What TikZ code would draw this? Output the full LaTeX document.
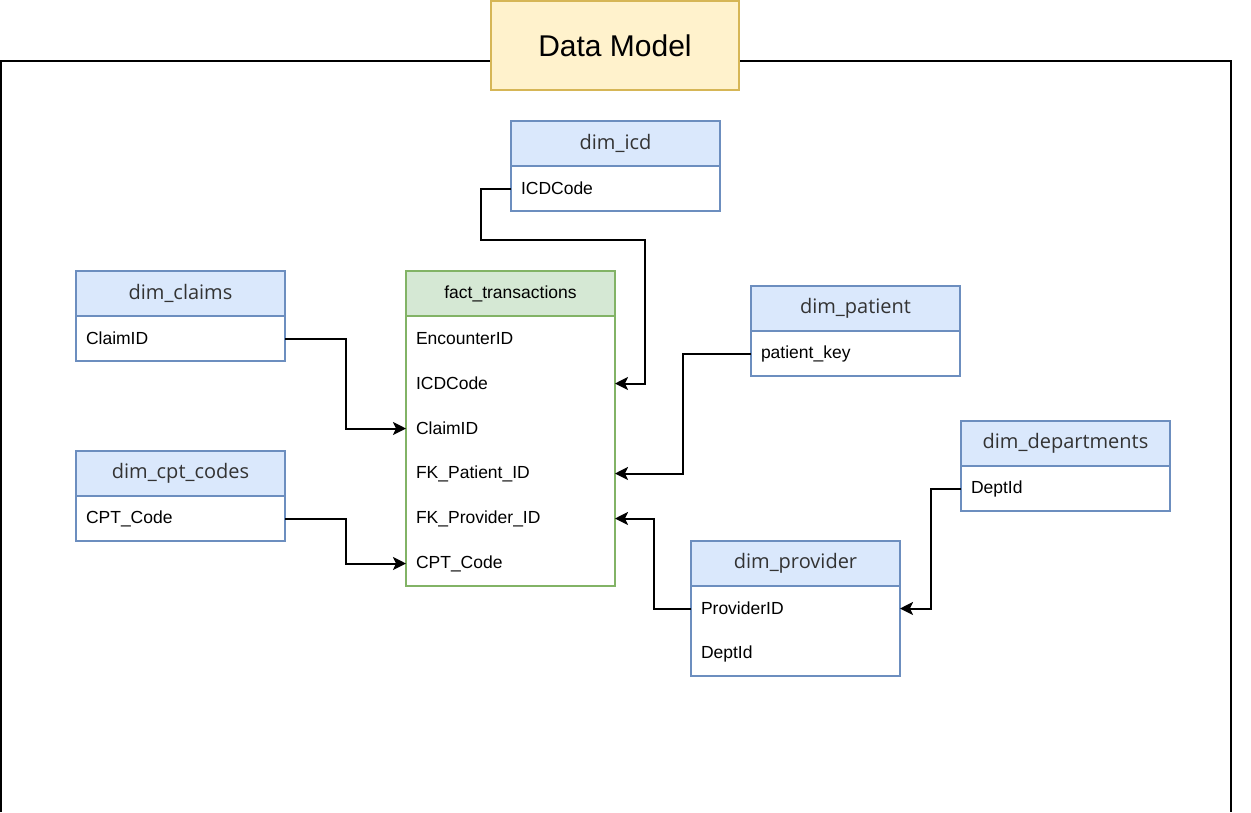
\documentclass[tikz,border=0pt]{standalone}
\usepackage{fontspec}
\setmainfont{Liberation Sans}
\newfontfamily\headfont{Open Sans}
\usetikzlibrary{arrows.meta,positioning}
\definecolor{dimblue}{RGB}{108,142,191}
\definecolor{dimshade}{RGB}{218,232,252}
\definecolor{factgreen}{RGB}{130,179,102}
\definecolor{factshade}{RGB}{213,232,212}
\definecolor{titleline}{RGB}{214,182,86}
\definecolor{titleshade}{RGB}{255,242,204}
\begin{document}
\begin{tikzpicture}[x=1pt,y=-1pt,font=\fontsize{17.5}{20}\selectfont,
    line width=1.5pt,
    dimhead/.style={draw=dimblue,fill=dimshade,minimum width=209pt,
      minimum height=45pt,inner sep=0pt,outer sep=0pt,text=black!80,
      font=\headfont\fontsize{20}{24}\selectfont},
    facthead/.style={draw=factgreen,fill=factshade,minimum width=209pt,
      minimum height=45pt,inner sep=0pt,outer sep=0pt},
    field/.style={minimum height=45pt,text width=189pt,inner xsep=10pt,
      inner ysep=0pt,outer sep=0pt,align=left},
    link/.style={line width=2pt,-{Stealth[length=13pt,width=13pt,inset=3pt]}}]
    \useasboundingbox (0,0) rectangle (1251,812);
    \draw[line width=2pt] (1,812) -- (1,61) -- (1231,61) -- (1231,812);
    \node[draw=titleline,fill=titleshade,minimum width=248pt,minimum height=89pt,
      font=\fontsize{30}{36}\selectfont] (title) at (615,45.5) {Data Model};

    % fact table
    \node[facthead] (facthd) at (510.5,293.5) {fact\_transactions};
    \node[field,below=0pt of facthd] (fenc) {EncounterID};
    \node[field,below=0pt of fenc] (ficd) {ICDCode};
    \node[field,below=0pt of ficd] (fclaim) {ClaimID};
    \node[field,below=0pt of fclaim] (fpatient) {FK\_Patient\_ID};
    \node[field,below=0pt of fpatient] (fprovider) {FK\_Provider\_ID};
    \node[field,below=0pt of fprovider] (fcpt) {CPT\_Code};
    \draw[factgreen] (facthd.south west) rectangle (fcpt.south east);

    % dimensions
    \node[dimhead] (icdhd) at (615.5,143.5) {dim\_icd};
    \node[field,below=0pt of icdhd] (icdcode) {ICDCode};
    \draw[dimblue] (icdhd.south west) rectangle (icdcode.south east);

    \node[dimhead] (claimhd) at (180.5,293.5) {dim\_claims};
    \node[field,below=0pt of claimhd] (claimid) {ClaimID};
    \draw[dimblue] (claimhd.south west) rectangle (claimid.south east);

    \node[dimhead] (cpthd) at (180.5,473.5) {dim\_cpt\_codes};
    \node[field,below=0pt of cpthd] (cptcode) {CPT\_Code};
    \draw[dimblue] (cpthd.south west) rectangle (cptcode.south east);

    \node[dimhead] (pathd) at (855.5,308.5) {dim\_patient};
    \node[field,below=0pt of pathd] (patkey) {patient\_key};
    \draw[dimblue] (pathd.south west) rectangle (patkey.south east);

    \node[dimhead] (depthd) at (1065.5,443.5) {dim\_departments};
    \node[field,below=0pt of depthd] (deptid) {DeptId};
    \draw[dimblue] (depthd.south west) rectangle (deptid.south east);

    \node[dimhead] (provhd) at (795.5,563.5) {dim\_provider};
    \node[field,below=0pt of provhd] (provid) {ProviderID};
    \node[field,below=0pt of provid] (provdept) {DeptId};
    \draw[dimblue] (provhd.south west) rectangle (provdept.south east);

    % links
    \draw[link] (icdcode.west) -- ++(-30,0) |- (645,240) |- (ficd.east);
    \draw[link] (claimid.east) -- ++(61,0) |- (fclaim.west);
    \draw[link] (cptcode.east) -- ++(61,0) |- (fcpt.west);
    \draw[link] (patkey.west) -- ++(-68,0) |- (fpatient.east);
    \draw[link] (provid.west) -- ++(-37,0) |- (fprovider.east);
    \draw[link] (deptid.west) -- ++(-30,0) |- (provid.east);
\end{tikzpicture}
\end{document}
